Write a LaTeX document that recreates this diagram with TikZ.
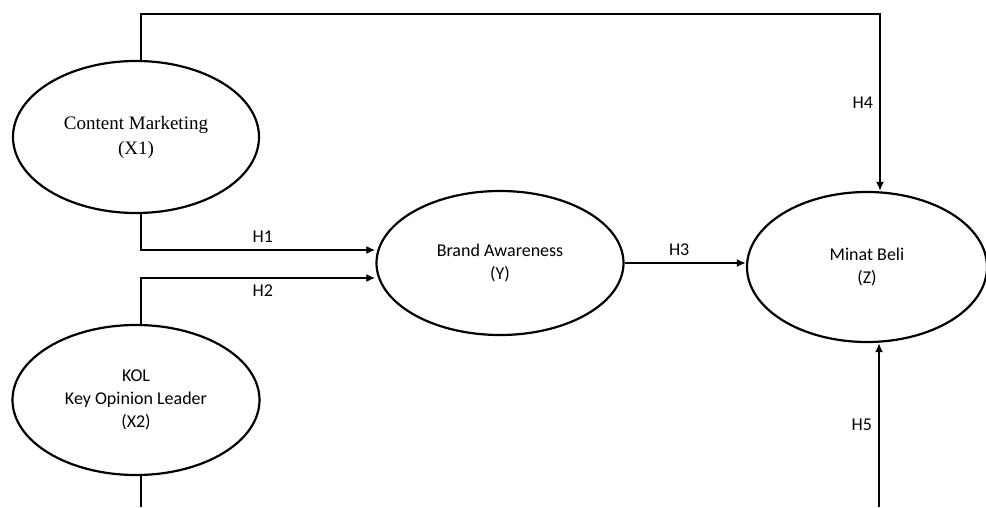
\documentclass[tikz,border=0pt]{standalone}
\usepackage{fontspec}
\setmainfont{Carlito}
\newfontfamily\serifcm{Liberation Serif}
\usetikzlibrary{shapes.geometric}
\usetikzlibrary{arrows.meta}
\tikzset{>={Latex[length=9pt,width=8pt]}}
\tikzset{%
  varbox/.style={draw, ellipse, line width=2.2pt, inner sep=0pt, align=center,
    font=\fontsize{18}{23}\selectfont},
  link/.style={line width=2.2pt},
  hyp/.style={font=\fontsize{18}{22}\selectfont, inner sep=6pt}
}

\begin{document}
\begin{tikzpicture}[x=1pt, y=1pt]

    \useasboundingbox (0,0) rectangle (986,507);

    % set up the four variables
    \node[varbox, minimum width=246, minimum height=152, font=\serifcm\fontsize{19}{25}\selectfont] (cm) at (136,370) {Content Marketing\\(X1)};
    \node[varbox, minimum width=247, minimum height=150] (kol) at (136,107) {KOL\\Key Opinion Leader\\(X2)};
    \node[varbox, minimum width=247, minimum height=144] (ba) at (500,244) {Brand Awareness\\(Y)};
    \node[varbox, minimum width=240, minimum height=150] (mb) at (867,240) {Minat Beli\\(Z)};

    % loose ends at the bottom edge
    \coordinate (kolend) at (141,0);
    \coordinate (mbstart) at (879,0);
    \coordinate (topleft) at (141,493);

    % H1 and H2 into brand awareness
    \draw[link, ->] ([xshift=5]cm.south) |- node[pos=0.76, above, hyp] {H1} ([yshift=13]ba.west);
    \draw[link, ->] ([xshift=5]kol.north) |- node[pos=0.76, below, hyp] {H2} ([yshift=-15]ba.west);

    % H3 from brand awareness to minat beli
    \draw[link, ->] (ba.east) -- node[pos=0.45, above, hyp] {H3} (ba.east -| mb.west);

    % H4 along the top
    \draw[link, ->] ([xshift=5]cm.north) -- (topleft) -| node[pos=0.75, left, hyp] {H4} ([xshift=13]mb.north);

    % H5 from below, and the open line under KOL
    \draw[link, ->] (mbstart) -- node[midway, left, hyp] {H5} ([xshift=12]mb.south);
    \draw[link] (kol.south -| kolend) -- (kolend);

\end{tikzpicture}
\end{document}
